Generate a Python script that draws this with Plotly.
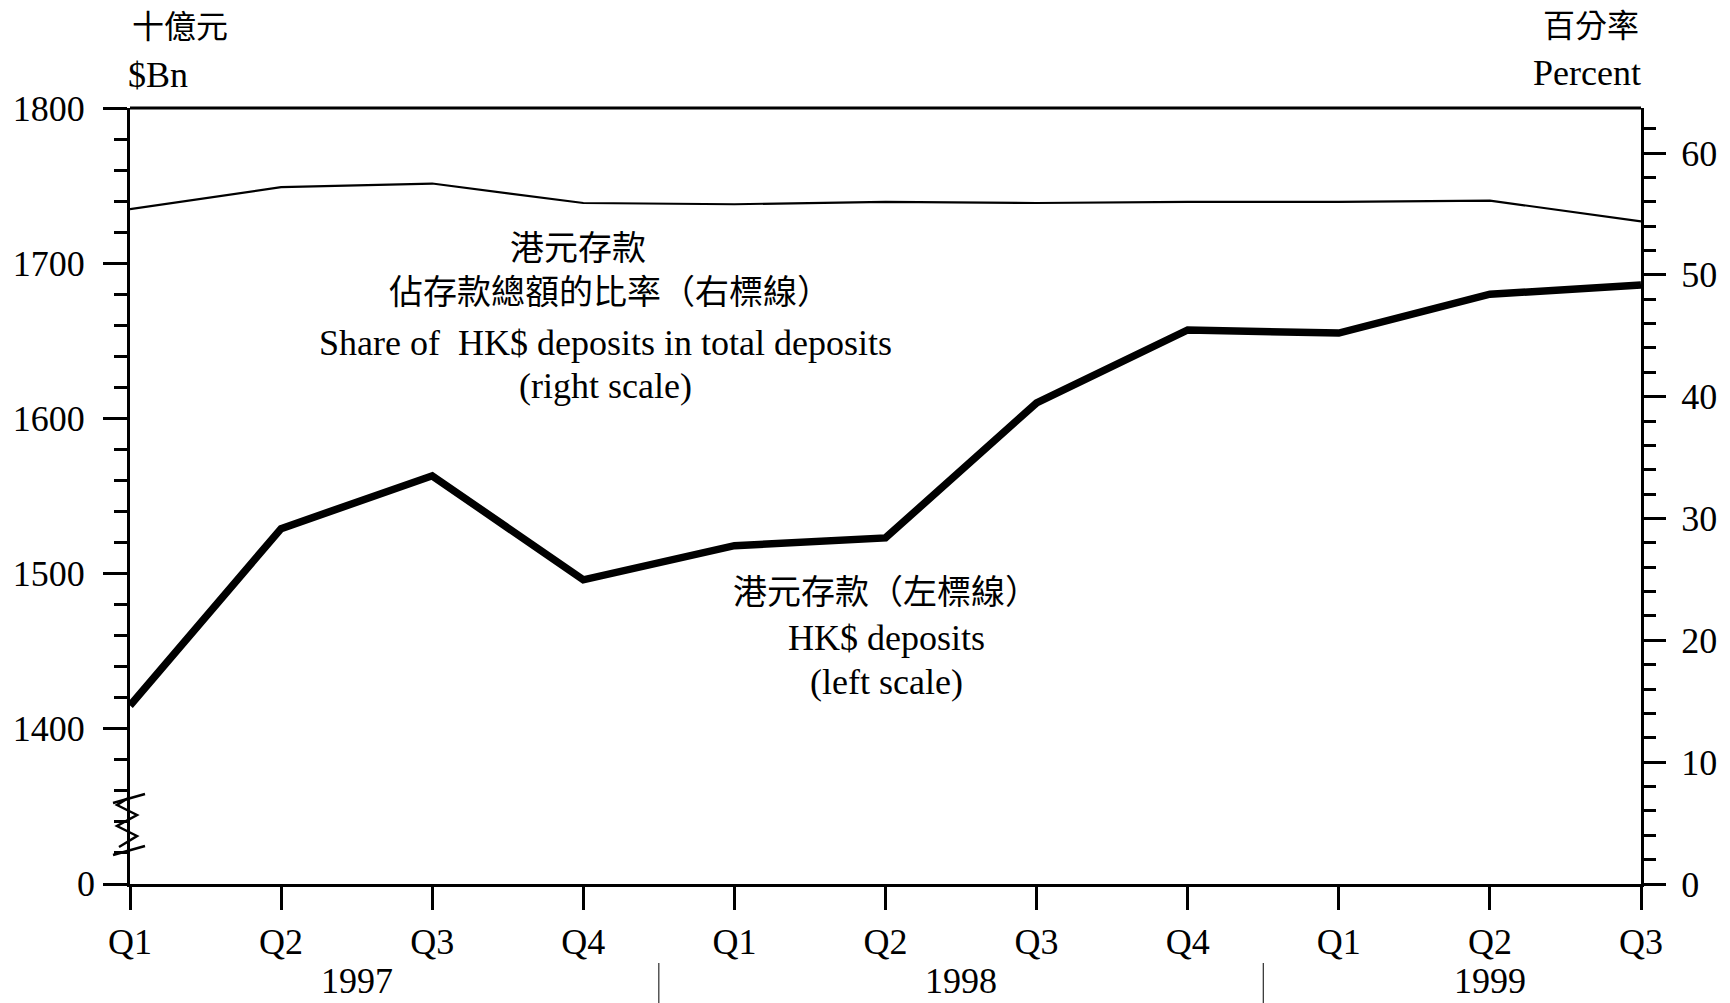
import plotly.graph_objects as go

# ---------------- data ----------------
quarters = ['Q1', 'Q2', 'Q3', 'Q4', 'Q1', 'Q2', 'Q3', 'Q4', 'Q1', 'Q2', 'Q3']
years = ['1997', '1998', '1999']
year_centers = [1.5, 5.5, 9.0]
year_separators = [3.5, 7.5]
hkd_deposits = [1415, 1529, 1563, 1496, 1518, 1523, 1610, 1657, 1655, 1680, 1686]   # $Bn, left scale
hkd_share = [55.4, 57.2, 57.5, 55.9, 55.8, 56.0, 55.9, 56.0, 56.0, 56.1, 54.4]       # %, right scale
left_tickvals = [1300, 1400, 1500, 1600, 1700, 1800]
left_ticktext = ['', '1400', '1500', '1600', '1700', '1800']
left_zero_label = '0'          # shown at the axis-break base (value position 1300)

# ---------------- layout constants ----------------
OFF = 8                      # default page body margin
W, H = 1730 - OFF, 1003 - OFF
ML, MR, MT, MB = 130 - OFF, 89, 108 - OFF, 119
PW, PH = W - ML - MR, H - MT - MB
FONT = "Liberation Serif, 'Noto Sans CJK TC', serif"
FS = 36
CJK = 34

def px_x(px):
    # px given in page pixels of the reference
    return (px - OFF - ML) / PW

def px_y(py):
    return (H - MB - (py - OFF)) / PH

xs = list(range(len(quarters)))

fig = go.Figure()
fig.add_trace(go.Scatter(x=xs, y=hkd_deposits, mode='lines',
                         line=dict(color='black', width=7.5), yaxis='y', showlegend=False))
fig.add_trace(go.Scatter(x=xs, y=hkd_share, mode='lines',
                         line=dict(color='black', width=2.2), yaxis='y2', showlegend=False))

fig.update_layout(
    width=W, height=H, autosize=False,
    margin=dict(l=ML, r=MR, t=MT, b=MB, pad=0, autoexpand=False),
    paper_bgcolor='white', plot_bgcolor='white',
    font=dict(family=FONT, size=FS, color='black'),
    xaxis=dict(range=[0, len(quarters) - 1], tickmode='array', tickvals=xs, ticktext=quarters,
               showline=True, linecolor='black', linewidth=3, ticks='outside', ticklen=23,
               tickwidth=2.5, tickcolor='black', showgrid=False, zeroline=False,
               ticklabelstandoff=1, automargin=False),
    yaxis=dict(range=[1300, 1800], tickmode='array', tickvals=left_tickvals, ticktext=left_ticktext,
               showline=True, linecolor='black', linewidth=3, ticks='outside', ticklen=24,
               tickwidth=2.5, tickcolor='black', showgrid=False, zeroline=False,
               ticklabelstandoff=11, automargin=False,
               minor=dict(tickmode='linear', tick0=1300, dtick=20, ticks='outside', ticklen=13,
                          tickwidth=2.5, tickcolor='black', showgrid=False)),
    yaxis2=dict(range=[0, 63.7], overlaying='y', side='right', tickmode='linear', tick0=0, dtick=10,
                showline=True, linecolor='black', linewidth=3, ticks='outside', ticklen=22,
                tickwidth=2.5, tickcolor='black', showgrid=False, zeroline=False,
                ticklabelstandoff=8, automargin=False,
                minor=dict(tickmode='linear', tick0=0, dtick=2, ticks='outside', ticklen=12,
                           tickwidth=2.5, tickcolor='black', showgrid=False)),
)

shapes = []
# top border
shapes.append(dict(type='line', xref='paper', yref='paper', x0=0, x1=1, y0=1, y1=1,
                   line=dict(color='black', width=3)))
# year separators
for s in year_separators:
    shapes.append(dict(type='line', xref='x', yref='paper', x0=s, x1=s,
                       y0=px_y(963), y1=px_y(1003), line=dict(color='black', width=1)))
# axis break zigzag on left axis
zig = [(130, 797), (117, 805), (137, 815), (117, 826), (137, 836), (119, 847)]
path = 'M ' + ' L '.join(f'{px_x(a):.5f},{px_y(b):.5f}' for a, b in zig)
shapes.append(dict(type='path', xref='paper', yref='paper', path=path,
                   line=dict(color='black', width=2.5)))
for (a0, b0, a1, b1) in [(113, 803, 145, 794), (113, 855, 145, 846)]:
    shapes.append(dict(type='line', xref='paper', yref='paper', x0=px_x(a0), y0=px_y(b0),
                       x1=px_x(a1), y1=px_y(b1), line=dict(color='black', width=2.5)))
fig.update_layout(shapes=shapes)

ann = []
def add_text(text, px, py, size=FS, xanchor='center'):
    ann.append(dict(text=text, xref='paper', yref='paper', x=px_x(px), y=px_y(py),
                    xanchor=xanchor, yanchor='middle', showarrow=False,
                    font=dict(family=FONT, size=size, color='black')))

# axis unit labels
add_text('十億元', 180, 27, 32)
add_text('$Bn', 158, 75)
add_text('百分率', 1591, 26, 32)
add_text('Percent', 1587, 73)
# zero label at the broken left axis
ann.append(dict(text=left_zero_label, xref='paper', yref='y', x=px_x(97), y=left_tickvals[0],
                xanchor='right', yanchor='middle', showarrow=False,
                font=dict(family=FONT, size=FS, color='black')))
# series labels
add_text('港元存款', 578, 248, CJK)
add_text('佔存款總額的比率（右標線）', 610, 292, CJK)
add_text('Share of  HK$ deposits in total deposits', 605, 343)
add_text('(right scale)', 605, 386)
add_text('港元存款（左標線）', 886, 592, CJK)
add_text('HK$ deposits', 886, 638)
add_text('(left scale)', 886, 682)
# years
for yr, c in zip(years, year_centers):
    ann.append(dict(text=yr, xref='x', yref='paper', x=c, y=px_y(981), xanchor='center',
                    yanchor='middle', showarrow=False, font=dict(family=FONT, size=FS, color='black')))
fig.update_layout(annotations=ann)

fig.write_html('out.html')
